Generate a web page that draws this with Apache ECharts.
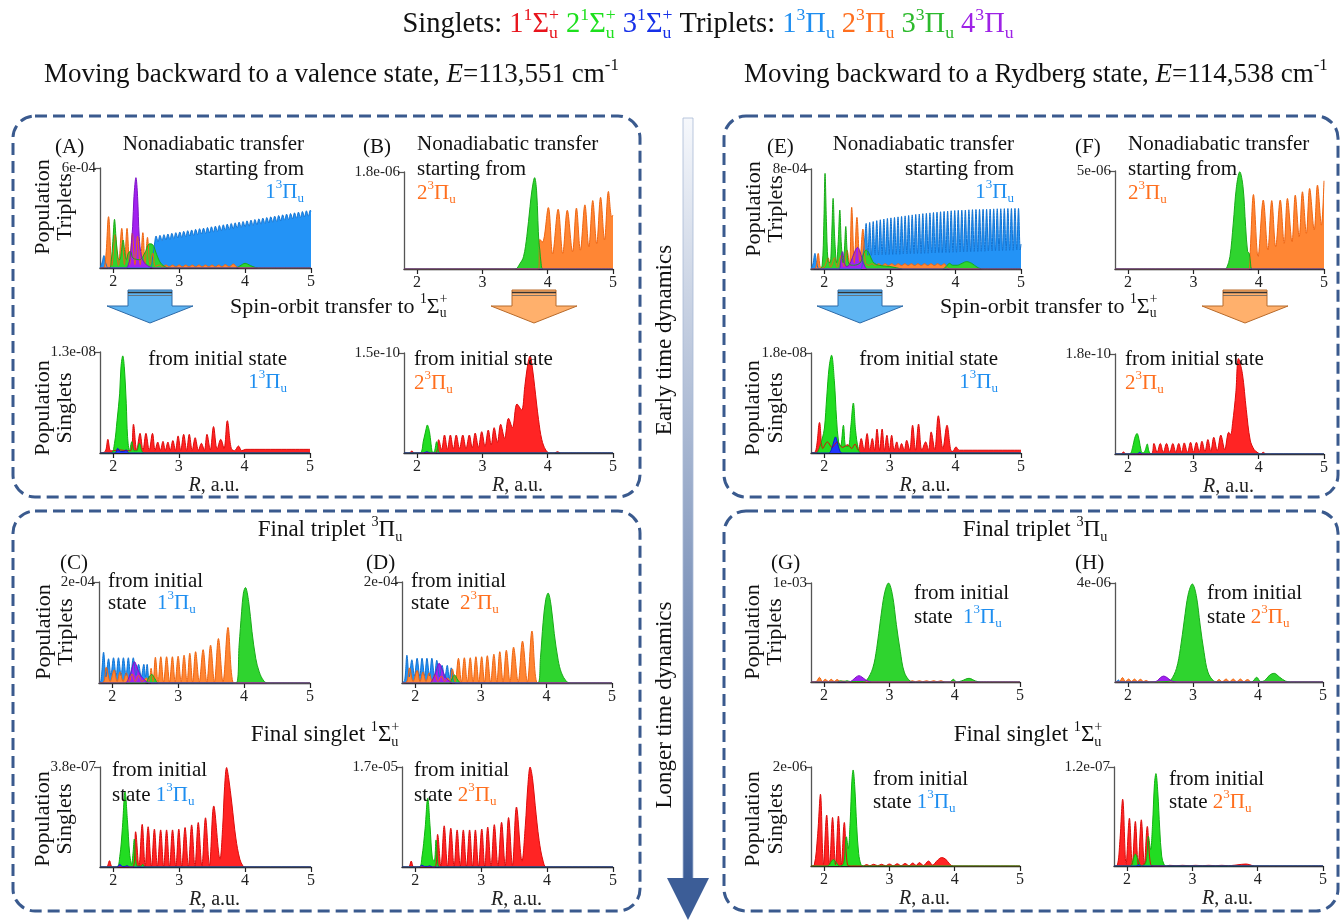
<!DOCTYPE html>
<html><head><meta charset="utf-8">
<script src="https://cdn.jsdelivr.net/npm/echarts@6/dist/echarts.min.js"></script>
<style>html,body{margin:0;padding:0;background:#fff}#c{width:1344px;height:922px}</style>
</head><body><div id="c"></div>
<script>
// ---------------- DATA (x = R in a.u., y in units of each panel's top-tick exponent) ----------------
const X_MIN = 1.8, X_MAX = 5;
const X_TICKS = [2, 3, 4, 5];
const Y_TICK_LABELS = ['6e-04','1.8e-06','1.3e-08','1.5e-10','8e-04','5e-06','1.8e-08','1.8e-10','2e-04','2e-04','3.8e-07','1.7e-05','1e-03','4e-06','2e-06','1.2e-07'];
const Y_MAX = [6, 1.8, 1.3, 1.5, 8, 5, 1.8, 1.8, 2, 2, 3.8, 1.7, 1, 4, 2, 1.2];

// (A) triplets, from 1^3Pi_u, valence
const A_blue = [[1.8,0],[1.83,0.3],[1.86,0.75],[1.89,0.25],[1.93,0],[2.55,0],[2.6,0.7],[2.63,1.55],
[2.65,1.92],[2.68,1.6],[2.71,1.96],[2.74,1.64],[2.77,2.0],[2.8,1.68],[2.83,2.04],[2.86,1.72],[2.89,2.08],[2.92,1.76],[2.95,2.12],[2.98,1.8],[3.01,2.16],[3.04,1.84],[3.07,2.2],[3.1,1.88],[3.13,2.24],[3.16,1.92],[3.19,2.28],[3.22,1.96],[3.25,2.32],[3.28,2.0],[3.31,2.36],[3.34,2.04],[3.37,2.39],[3.4,2.07],[3.43,2.43],[3.46,2.11],[3.49,2.47],[3.52,2.15],[3.55,2.51],[3.58,2.19],[3.61,2.55],[3.64,2.23],[3.67,2.59],[3.7,2.27],[3.73,2.63],[3.76,2.31],[3.79,2.67],[3.82,2.35],[3.85,2.71],[3.88,2.39],[3.91,2.75],[3.94,2.43],[3.97,2.79],[4.0,2.47],[4.03,2.83],[4.06,2.51],[4.09,2.87],[4.12,2.55],[4.15,2.91],[4.18,2.59],[4.21,2.95],[4.24,2.63],[4.27,2.99],[4.3,2.67],[4.33,3.03],[4.36,2.71],[4.39,3.07],[4.42,2.75],[4.45,3.11],[4.48,2.79],[4.51,3.15],[4.54,2.83],[4.57,3.19],[4.6,2.87],[4.63,3.23],[4.66,2.91],[4.69,3.27],[4.72,2.95],[4.75,3.31],[4.78,2.99],[4.81,3.35],[4.84,3.03],[4.87,3.39],[4.9,3.07],[4.93,3.43],[4.96,3.11],[4.99,3.47],[5.0,3.4]];
const A_orange = [[1.8,0],[1.87,0.1],[1.93,3.08],[1.98,0.15],[2.03,2.0],[2.08,0.15],[2.13,2.38],[2.17,0.2],[2.21,2.38],[2.25,0.2],[2.29,2.1],[2.33,0.2],[2.37,1.9],[2.41,0.2],[2.45,2.12],[2.485,0.25],[2.52,1.84],[2.56,0.2],[2.6,0.9],[2.64,0.1],[2.7,0.18],[2.75,0.07],[2.8,0.18],[2.85,0.07],[2.9,0.18],[2.95,0.07],[3.0,0.18],[3.05,0.07],[3.1,0.18],[3.15,0.07],[3.2,0.18],[3.25,0.07],[3.3,0.18],[3.35,0.07],[3.4,0.18],[3.45,0.07],[3.5,0.18],[3.55,0.07],[3.6,0.18],[3.65,0.07],[3.7,0.2],[3.76,0.07],[3.82,0.24],[3.88,0.05],[3.94,0],[5,0]];
const A_green = [[1.8,0],[1.94,0],[1.97,0.4],[1.995,1.6],[2.02,2.92],[2.045,1.7],[2.075,0.6],[2.1,0.5],[2.125,1.0],[2.15,1.68],[2.175,1.0],[2.2,0.5],[2.23,0.9],[2.26,1.0],[2.3,0.6],[2.4,0.5],[2.48,0.9],[2.55,1.45],[2.6,1.4],[2.66,0.8],[2.72,0.3],[2.8,0.05],[2.9,0],[3.85,0],[3.92,0.12],[4.0,0.28],[4.08,0.15],[4.16,0.03],[4.25,0],[5,0]];
const A_purple = [[1.8,0],[2.2,0],[2.23,0.2],[2.255,0.58],[2.295,2.48],[2.315,4.28],[2.345,5.42],[2.37,4.28],[2.395,1.88],[2.43,0.68],[2.48,0.28],[2.56,0.05],[2.62,0],[5,0]];

// (B) triplets, from 2^3Pi_u, valence
const B_orange = [[1.8,0],[3.86,0],[3.88,0.55],[3.92,0.5],[4.01,1.14],[4.075,0.28],[4.16,1.11],[4.23,0.29],[4.3,1.09],[4.38,0.32],[4.44,1.13],[4.5,0.35],[4.57,1.19],[4.63,0.41],[4.69,1.27],[4.75,0.47],[4.81,1.33],[4.87,0.54],[4.93,1.44],[4.98,0.97],[5.0,1.0]];
const B_green = [[1.8,0],[3.5,0],[3.575,0.1],[3.63,0.23],[3.68,0.6],[3.73,1.16],[3.76,1.47],[3.8,1.695],[3.83,1.45],[3.85,0.9],[3.865,0.5],[3.88,0.35],[3.9,0.1],[3.93,0],[5,0]];
const B_purple = [[1.8,0],[5,0]];

// (A) singlets below
const AB_red = [[1.8,0],[1.88,0.02],[1.92,0.176],[1.96,0.03],[2.0,0.03],[2.1,0.04],[2.2,0.03],[2.27,0.03],[2.31,0.37],[2.36,0.035],[2.41,0.253],[2.455,0.035],[2.5,0.253],[2.55,0.035],[2.6,0.253],[2.64,0.035],[2.68,0.14],[2.72,0.035],[2.76,0.15],[2.795,0.035],[2.835,0.14],[2.87,0.035],[2.91,0.16],[2.95,0.035],[2.99,0.22],[3.03,0.035],[3.075,0.24],[3.12,0.035],[3.16,0.24],[3.205,0.035],[3.25,0.197],[3.3,0.035],[3.345,0.124],[3.39,0.035],[3.43,0.24],[3.48,0.04],[3.53,0.34],[3.585,0.05],[3.64,0.176],[3.69,0.06],[3.74,0.416],[3.8,0.06],[3.85,0.03],[3.91,0.09],[3.96,0.03],[4.02,0.047],[5.0,0.047]];
const AB_green = [[1.8,0],[1.97,0],[2.02,0.12],[2.06,0.42],[2.1,0.77],[2.12,1.11],[2.147,1.25],[2.17,1.11],[2.2,0.64],[2.22,0.21],[2.25,0.03],[2.285,0.146],[2.32,0.03],[2.36,0.03],[2.4,0.124],[2.44,0.02],[2.48,0],[5,0]];
const AB_blue = [[1.8,0],[2.03,0],[2.07,0.06],[2.11,0.02],[2.16,0.02],[2.2,0.04],[2.24,0],[5,0]];

// (B) singlets below
const BB_red = [[1.8,0],[1.88,0],[1.92,0.03],[1.96,0],[2.28,0],[2.33,0.2],[2.375,0.05],[2.42,0.27],[2.465,0.055],[2.51,0.27],[2.555,0.06],[2.6,0.27],[2.65,0.065],[2.7,0.27],[2.75,0.07],[2.8,0.27],[2.845,0.075],[2.89,0.3],[2.94,0.085],[2.99,0.32],[3.04,0.1],[3.09,0.345],[3.135,0.12],[3.18,0.38],[3.23,0.16],[3.28,0.43],[3.34,0.22],[3.4,0.52],[3.46,0.38],[3.53,0.735],[3.6,0.645],[3.65,1.0],[3.69,1.3],[3.73,1.455],[3.77,1.245],[3.8,1.0],[3.86,0.5],[3.91,0.2],[3.97,0.045],[4.03,0],[4.1,0],[4.15,0.02],[4.2,0],[5,0]];
const BB_green = [[1.8,0],[2.04,0],[2.1,0.195],[2.135,0.345],[2.157,0.42],[2.19,0.32],[2.213,0.145],[2.24,0.01],[2.265,0.02],[2.3,0.17],[2.33,0.02],[2.36,0],[5,0]];
const BB_blue = [[1.8,0],[2.1,0],[2.15,0.02],[2.2,0],[5,0]];

// (E) triplets, from 1^3Pi_u, Rydberg
const E_blue = [[1.8,0],[1.83,0.4],[1.86,1.25],[1.89,0.4],[1.93,0],[2.55,0],[2.59,1.0],[2.62,2.5],
[2.64,3.65],[2.667,1.1],[2.694,3.73],[2.721,1.1],[2.748,3.8],[2.775,1.12],[2.802,3.87],[2.829,1.12],[2.856,3.94],[2.883,1.14],[2.91,4.0],[2.937,1.14],[2.964,4.05],[2.991,1.16],[3.018,4.09],[3.045,1.16],[3.072,4.13],[3.099,1.18],[3.126,4.17],[3.153,1.18],[3.18,4.21],[3.207,1.2],[3.234,4.25],[3.261,1.2],[3.288,4.29],[3.315,1.22],[3.342,4.33],[3.369,1.22],[3.396,4.37],[3.423,1.24],[3.45,4.4],[3.477,1.24],[3.504,4.43],[3.531,1.26],[3.558,4.46],[3.585,1.26],[3.612,4.49],[3.639,1.28],[3.666,4.52],[3.693,1.28],[3.72,4.55],[3.747,1.3],[3.774,4.58],[3.801,1.3],[3.828,4.61],[3.855,1.32],[3.882,4.64],[3.909,1.32],[3.936,4.66],[3.963,1.34],[3.99,4.68],[4.017,1.34],[4.044,4.7],[4.071,1.36],[4.098,4.71],[4.125,1.36],[4.152,4.72],[4.179,1.38],[4.206,4.74],[4.233,1.38],[4.26,4.75],[4.287,1.4],[4.314,4.76],[4.341,1.4],[4.368,4.77],[4.395,1.42],[4.422,4.78],[4.449,1.42],[4.476,4.79],[4.503,1.44],[4.53,4.8],[4.557,1.44],[4.584,4.81],[4.611,1.46],[4.638,4.82],[4.665,1.46],[4.692,4.82],[4.719,1.48],[4.746,4.83],[4.773,1.48],[4.8,4.84],[4.827,1.5],[4.854,4.84],[4.881,1.5],[4.908,4.85],[4.935,1.52],[4.962,4.85],[4.989,1.52],[5.0,2.0]];
const E_orange = [[1.8,0],[1.87,0.1],[1.91,1.25],[1.95,0.1],[2.0,0.15],[2.06,0.9],[2.1,0.15],[2.16,0.9],[2.2,0.15],[2.26,1.1],[2.3,0.2],[2.35,1.5],[2.385,0.3],[2.42,4.93],[2.46,0.5],[2.5,4.13],[2.545,0.6],[2.59,3.2],[2.63,0.5],[2.68,0.3],[2.73,0.42],[2.78,0.28],[2.83,0.42],[2.88,0.28],[2.93,0.42],[2.98,0.28],[3.03,0.42],[3.08,0.28],[3.13,0.42],[3.18,0.28],[3.23,0.42],[3.28,0.28],[3.33,0.42],[3.38,0.28],[3.43,0.42],[3.48,0.28],[3.53,0.42],[3.58,0.28],[3.63,0.42],[3.68,0.28],[3.73,0.42],[3.78,0.28],[3.83,0.42],[3.88,0.1],[3.93,0],[5,0]];
const E_green = [[1.8,0],[1.93,0],[1.97,0.3],[1.995,3.5],[2.014,7.65],[2.035,3.8],[2.06,0.6],[2.09,0.5],[2.115,2.6],[2.137,5.65],[2.16,2.6],[2.19,0.5],[2.215,2.2],[2.239,4.72],[2.262,2.0],[2.29,0.5],[2.31,1.6],[2.33,3.4],[2.352,1.3],[2.38,0.4],[2.45,0.3],[2.55,0.5],[2.6,1.2],[2.64,1.52],[2.68,1.3],[2.74,0.6],[2.8,0.35],[2.9,0.25],[3.0,0.2],[3.1,0.1],[3.2,0],[3.8,0],[3.86,0.2],[3.91,0.45],[3.96,0.3],[4.03,0.3],[4.1,0.45],[4.17,0.59],[4.25,0.45],[4.33,0.15],[4.42,0],[5,0]];
const E_purple = [[1.8,0],[2.22,0],[2.25,0.5],[2.28,1.39],[2.31,0.5],[2.34,0.2],[2.38,0.3],[2.43,0.9],[2.48,1.55],[2.51,1.73],[2.54,1.5],[2.58,0.8],[2.62,0.2],[2.66,0],[5,0]];

// (F) triplets, from 2^3Pi_u, Rydberg
const F_orange = [[1.8,0],[3.85,0],[3.87,0.88],[3.92,3.8],[3.99,0.63],[4.07,3.52],[4.14,0.97],[4.2,3.49],[4.26,1.14],[4.33,3.52],[4.39,1.31],[4.44,3.6],[4.51,1.39],[4.56,3.77],[4.62,1.65],[4.67,3.94],[4.73,1.82],[4.78,4.11],[4.85,1.99],[4.9,4.28],[4.96,2.24],[5.0,4.5]];
const F_green = [[1.8,0],[3.48,0],[3.51,0.05],[3.56,0.63],[3.61,2.3],[3.66,4.2],[3.71,4.96],[3.76,4.2],[3.8,2.16],[3.83,0.9],[3.855,0.8],[3.875,0.3],[3.9,0],[5,0]];
const F_purple = [[1.8,0],[5,0]];

// (E) singlets below
const EB_red = [[1.8,0],[1.87,0.03],[1.93,0.55],[1.98,0.08],[2.05,0.2],[2.12,0.1],[2.2,0.2],[2.28,0.1],[2.36,0.15],[2.42,0.08],[2.47,0.16],[2.52,0.05],[2.565,0.26],[2.61,0.05],[2.655,0.35],[2.695,0.05],[2.734,0.26],[2.77,0.05],[2.806,0.43],[2.845,0.05],[2.884,0.43],[2.92,0.05],[2.957,0.32],[2.993,0.05],[3.029,0.32],[3.068,0.05],[3.107,0.2],[3.143,0.05],[3.18,0.17],[3.22,0.05],[3.258,0.23],[3.303,0.05],[3.348,0.5],[3.393,0.05],[3.439,0.52],[3.49,0.05],[3.547,0.2],[3.59,0.05],[3.631,0.38],[3.685,0.06],[3.74,0.67],[3.81,0.08],[3.872,0.5],[3.93,0.05],[3.96,0.03],[4.01,0.11],[4.06,0.05],[5,0.05]];
const EB_green = [[1.8,0],[1.88,0],[1.93,0.1],[1.97,0.25],[2.005,0.45],[2.04,1.01],[2.077,1.55],[2.113,1.76],[2.155,1.31],[2.19,0.6],[2.22,0.2],[2.25,0.12],[2.294,0.5],[2.33,0.12],[2.37,0.12],[2.405,0.45],[2.445,0.9],[2.48,0.4],[2.52,0.08],[2.56,0],[5,0]];
const EB_blue = [[1.8,0],[2.07,0],[2.11,0.06],[2.145,0.2],[2.173,0.29],[2.2,0.2],[2.235,0.05],[2.27,0],[5,0]];

// (F) singlets below
const FB_red = [[1.8,0],[1.89,0],[1.93,0.036],[1.97,0],[2.35,0],[2.396,0.19],[2.445,0.03],[2.493,0.19],[2.54,0.03],[2.589,0.19],[2.637,0.03],[2.686,0.19],[2.73,0.03],[2.776,0.19],[2.82,0.03],[2.86,0.2],[2.91,0.03],[2.957,0.21],[3.0,0.035],[3.047,0.21],[3.09,0.04],[3.131,0.23],[3.177,0.045],[3.222,0.26],[3.267,0.05],[3.312,0.3],[3.366,0.06],[3.42,0.34],[3.48,0.08],[3.541,0.39],[3.57,0.35],[3.6,0.55],[3.65,1.1],[3.69,1.72],[3.75,1.45],[3.81,0.8],[3.87,0.25],[3.93,0.08],[3.99,0.02],[4.03,0],[4.07,0.03],[4.11,0],[5,0]];
const FB_green = [[1.8,0],[2.02,0],[2.07,0.12],[2.1,0.28],[2.137,0.37],[2.17,0.25],[2.2,0.06],[2.23,0.02],[2.26,0.06],[2.294,0.18],[2.32,0.05],[2.36,0],[5,0]];
const FB_blue = [[1.8,0],[2.14,0],[2.18,0.03],[2.22,0],[5,0]];

// (C) final triplet from 1^3Pi_u, valence
const C_blue = [[1.8,0],[1.83,0.05],[1.87,0.61],[1.905,0.12],[1.945,0.48],[1.98,0.15],[2.02,0.5],[2.06,0.15],[2.095,0.5],[2.135,0.15],[2.17,0.5],[2.21,0.15],[2.245,0.5],[2.28,0.15],[2.32,0.5],[2.36,0.15],[2.4,0.37],[2.44,0.12],[2.48,0.37],[2.505,0.12],[2.53,0.37],[2.56,0.05],[2.6,0],[5,0]];
const C_orange = [[1.8,0],[1.87,0.02],[1.91,0.31],[1.97,0.03],[2.03,0.26],[2.075,0.03],[2.12,0.22],[2.165,0.03],[2.215,0.2],[2.26,0.03],[2.3,0.18],[2.35,0.03],[2.4,0.15],[2.45,0.03],[2.52,0.1],[2.56,0.03],[2.59,0.29],[2.62,0.03],[2.655,0.51],[2.695,0.02],[2.737,0.52],[2.78,0.02],[2.825,0.52],[2.87,0.02],[2.913,0.52],[2.955,0.02],[3.0,0.53],[3.045,0.02],[3.09,0.55],[3.135,0.02],[3.177,0.59],[3.22,0.02],[3.265,0.62],[3.32,0.02],[3.379,0.66],[3.435,0.02],[3.492,0.75],[3.55,0.02],[3.611,0.88],[3.68,0.02],[3.756,1.1],[3.83,0.02],[3.9,0],[5,0]];
const C_green = [[1.8,0],[2.5,0],[2.55,0.1],[2.6,0.17],[2.65,0.08],[2.7,0],[3.88,0],[3.925,0.75],[3.963,1.41],[3.99,1.78],[4.02,1.89],[4.07,1.61],[4.12,1.02],[4.177,0.49],[4.23,0.22],[4.3,0.04],[4.36,0],[5,0]];
const C_purple = [[1.8,0],[2.2,0],[2.234,0.05],[2.28,0.2],[2.34,0.42],[2.38,0.3],[2.43,0.15],[2.5,0.05],[2.56,0],[5,0]];

// (D) final triplet from 2^3Pi_u, valence
const D_blue = [[1.8,0],[1.84,0.05],[1.875,0.55],[1.91,0.12],[1.95,0.46],[1.99,0.14],[2.03,0.49],[2.07,0.14],[2.105,0.49],[2.145,0.14],[2.18,0.49],[2.22,0.14],[2.255,0.49],[2.295,0.14],[2.33,0.45],[2.37,0.12],[2.41,0.35],[2.45,0.1],[2.49,0.35],[2.52,0.1],[2.55,0.3],[2.58,0.04],[2.62,0],[5,0]];
const D_orange = [[1.8,0],[1.87,0.02],[1.915,0.3],[1.97,0.03],[2.03,0.25],[2.075,0.03],[2.12,0.22],[2.165,0.03],[2.215,0.2],[2.26,0.03],[2.3,0.17],[2.35,0.03],[2.4,0.14],[2.45,0.03],[2.5,0.1],[2.535,0.03],[2.567,0.28],[2.61,0.02],[2.66,0.49],[2.705,0.02],[2.75,0.5],[2.795,0.02],[2.84,0.5],[2.883,0.02],[2.926,0.52],[2.97,0.02],[3.014,0.52],[3.057,0.02],[3.1,0.54],[3.15,0.02],[3.2,0.57],[3.245,0.02],[3.29,0.62],[3.34,0.02],[3.39,0.65],[3.445,0.02],[3.5,0.71],[3.57,0.02],[3.636,0.83],[3.71,0.02],[3.78,1.03],[3.85,0.02],[3.92,0],[5,0]];
const D_green = [[1.8,0],[2.52,0],[2.56,0.08],[2.6,0.16],[2.65,0.06],[2.7,0],[3.87,0],[3.91,0.5],[3.95,1.2],[3.99,1.65],[4.026,1.78],[4.07,1.55],[4.12,0.98],[4.18,0.45],[4.23,0.2],[4.3,0.04],[4.36,0],[5,0]];
const D_purple = [[1.8,0],[2.22,0],[2.26,0.05],[2.31,0.2],[2.366,0.39],[2.41,0.28],[2.46,0.12],[2.52,0.04],[2.58,0],[5,0]];

// (C) final singlet below
const CB_red = [[1.8,0],[1.9,0],[1.944,0.24],[1.99,0],[2.3,0],[2.34,1.34],[2.39,0.03],[2.44,1.62],[2.485,0.03],[2.53,1.53],[2.58,0.03],[2.625,1.44],[2.67,0.03],[2.72,1.41],[2.765,0.03],[2.81,1.41],[2.855,0.03],[2.9,1.41],[2.95,0.03],[2.995,1.44],[3.04,0.03],[3.09,1.5],[3.14,0.03],[3.19,1.6],[3.24,0.03],[3.29,1.69],[3.345,0.04],[3.4,1.87],[3.46,0.06],[3.525,2.32],[3.62,0.3],[3.66,1.5],[3.69,3.05],[3.72,3.78],[3.75,3.4],[3.8,2.4],[3.86,1.1],[3.92,0.3],[3.97,0.03],[4.0,0],[5,0]];
const CB_green = [[1.8,0],[2.05,0],[2.1,0.4],[2.14,1.5],[2.18,2.86],[2.215,1.8],[2.25,0.5],[2.28,0.1],[2.3,0.5],[2.32,1.06],[2.34,0.3],[2.37,0.03],[2.42,0.03],[2.45,0.1],[2.48,0],[5,0]];
const CB_blue = [[1.8,0],[2.06,0],[2.1,0.1],[2.14,0.02],[2.18,0.02],[2.21,0.05],[2.25,0],[5,0]];

// (D) final singlet below
const DB_red = [[1.8,0],[1.9,0],[1.94,0.1],[1.98,0],[2.3,0],[2.34,0.555],[2.39,0.01],[2.44,0.7],[2.49,0.01],[2.54,0.66],[2.59,0.01],[2.636,0.63],[2.683,0.01],[2.73,0.63],[2.778,0.01],[2.825,0.63],[2.87,0.01],[2.913,0.63],[2.96,0.01],[3.01,0.646],[3.055,0.01],[3.1,0.68],[3.15,0.01],[3.2,0.72],[3.255,0.015],[3.31,0.76],[3.365,0.02],[3.416,0.84],[3.475,0.03],[3.536,1.02],[3.62,0.1],[3.67,0.7],[3.71,1.4],[3.743,1.7],[3.78,1.5],[3.82,1.05],[3.88,0.45],[3.94,0.1],[3.99,0],[5,0]];
const DB_green = [[1.8,0],[2.06,0],[2.1,0.15],[2.15,0.65],[2.19,1.17],[2.225,0.7],[2.26,0.15],[2.29,0.1],[2.316,0.46],[2.34,0.1],[2.37,0],[5,0]];
const DB_blue = [[1.8,0],[2.06,0],[2.1,0.03],[2.14,0.01],[2.19,0.01],[2.22,0.02],[2.26,0],[5,0]];

// (G) final triplet from 1^3Pi_u, Rydberg
const G_orange = [[1.8,0],[1.88,0.005],[1.93,0.047],[1.975,0.005],[2.02,0.027],[2.065,0.005],[2.11,0.027],[2.155,0.005],[2.2,0.024],[2.25,0.005],[2.3,0.01],[2.35,0],[3.3,0],[3.35,0.013],[3.4,0.003],[3.46,0.013],[3.51,0.003],[3.57,0.013],[3.62,0.003],[3.68,0.013],[3.73,0.003],[3.79,0.013],[3.85,0],[5,0]];
const G_green = [[1.8,0],[2.2,0],[2.25,0.012],[2.3,0.005],[2.35,0.012],[2.4,0.005],[2.5,0.005],[2.6,0.005],[2.655,0.02],[2.746,0.14],[2.806,0.34],[2.866,0.64],[2.927,0.9],[2.987,1.0],[3.047,0.88],[3.107,0.58],[3.167,0.31],[3.228,0.1],[3.318,0.01],[3.4,0],[3.92,0],[3.98,0.027],[4.03,0],[4.1,0.01],[4.22,0.037],[4.32,0.01],[4.4,0],[5,0]];
const G_purple = [[1.8,0],[2.38,0],[2.43,0.015],[2.49,0.05],[2.535,0.064],[2.58,0.05],[2.64,0.02],[2.7,0.003],[2.75,0],[5,0]];

// (H) final triplet from 2^3Pi_u, Rydberg
const H_blue = [[1.8,0],[1.83,0.03],[1.855,0.08],[1.88,0],[5,0]];
const H_orange = [[1.8,0],[1.87,0.01],[1.915,0.18],[1.96,0.02],[2.01,0.12],[2.055,0.02],[2.1,0.12],[2.145,0.02],[2.19,0.11],[2.24,0.02],[2.28,0.06],[2.33,0],[3.35,0],[3.4,0.1],[3.45,0.01],[3.51,0.12],[3.56,0.01],[3.62,0.12],[3.67,0.01],[3.73,0.12],[3.78,0.01],[3.84,0.1],[3.9,0],[5,0]];
const H_green = [[1.8,0],[2.3,0],[2.6,0.02],[2.66,0.08],[2.746,0.55],[2.806,1.35],[2.866,2.5],[2.927,3.55],[2.99,3.96],[3.05,3.5],[3.11,2.3],[3.17,1.2],[3.23,0.4],[3.32,0.04],[3.4,0],[3.9,0],[3.98,0.19],[4.04,0.02],[4.1,0.05],[4.18,0.28],[4.25,0.35],[4.33,0.2],[4.42,0.04],[4.5,0],[5,0]];
const H_purple = [[1.8,0],[2.4,0],[2.45,0.05],[2.5,0.18],[2.55,0.24],[2.6,0.18],[2.66,0.06],[2.72,0.01],[2.77,0],[5,0]];

// (G) final singlet below
const GB_red = [[1.8,0],[1.85,0.02],[1.9,0.6],[1.945,1.45],[1.99,0.03],[2.04,1.03],[2.085,0.03],[2.13,0.98],[2.175,0.03],[2.22,1.01],[2.265,0.03],[2.31,0.88],[2.36,0.02],[2.42,0],[2.6,0],[2.65,0.03],[2.7,0.005],[2.76,0.035],[2.82,0.005],[2.88,0.035],[2.94,0.005],[3.0,0.04],[3.06,0.005],[3.12,0.045],[3.18,0.005],[3.24,0.05],[3.3,0.005],[3.36,0.06],[3.41,0.01],[3.46,0.07],[3.52,0.01],[3.6,0.1],[3.66,0.02],[3.74,0.12],[3.8,0.17],[3.86,0.14],[3.93,0.03],[3.98,0],[5,0]];
const GB_green = [[1.8,0],[2.05,0],[2.1,0.07],[2.143,0.13],[2.19,0.06],[2.24,0],[2.3,0.05],[2.342,0.59],[2.37,0.35],[2.4,0.9],[2.425,1.7],[2.445,1.94],[2.47,1.6],[2.5,0.8],[2.53,0.25],[2.565,0.03],[2.6,0],[5,0]];

// (H) final singlet below
const HB_red = [[1.8,0],[1.85,0.01],[1.89,0.3],[1.933,0.81],[1.985,0.02],[2.036,0.58],[2.08,0.02],[2.127,0.54],[2.17,0.02],[2.218,0.56],[2.265,0.02],[2.31,0.48],[2.36,0.02],[2.42,0],[2.6,0],[2.65,0.008],[2.75,0.004],[2.85,0.008],[2.95,0.004],[3.05,0.008],[3.15,0.004],[3.25,0.008],[3.35,0.004],[3.45,0.008],[3.55,0.004],[3.65,0.01],[3.75,0.02],[3.82,0.024],[3.88,0.015],[3.95,0],[5,0]];
const HB_green = [[1.8,0],[2.05,0],[2.09,0.07],[2.127,0.145],[2.17,0.07],[2.22,0],[2.29,0.05],[2.327,0.36],[2.36,0.2],[2.39,0.5],[2.42,1.0],[2.442,1.12],[2.47,0.9],[2.5,0.45],[2.53,0.12],[2.565,0.02],[2.6,0],[5,0]];
const HB_blue = [[1.8,0],[2.14,0],[2.176,0.016],[2.21,0],[5,0]];

// ---------------- STYLE ----------------
const FF = '"Liberation Serif", "Times New Roman", serif';
const COL = {
  r:['#ff2424','#dc0a0a'], g:['#22dd22','#10b010'], b:['#1f35ff','#0a18d0'],
  lb:['#2393f6','#1273d2'], or:['#ff8634','#ee6512'], tg:['#2fd42f','#18aa18'], pu:['#a321f0','#7c12c4']
};
const TXT = {r:'#e8141c', g:'#1ee01e', b:'#1630e8', lb:'#1e8ef0', or:'#ff6f1e', tg:'#2cba2c', pu:'#9e22e6', k:'#111'};
const FS = 21;   // panel annotation font size

// panel layout: [left, top, right, bottom]
const PANELS = [
  {g:[100,168,311,268], s:[['lb',A_blue],['or',A_orange],['tg',A_green],['pu',A_purple]]},
  {g:[404,172,613,269], s:[['or',B_orange],['tg',B_green],['pu',B_purple]]},
  {g:[100,352,310,453], s:[['r',AB_red],['g',AB_green],['b',AB_blue]], xn:true},
  {g:[404,353,613,453], s:[['r',BB_red],['g',BB_green],['b',BB_blue]], xn:true},
  {g:[811,169,1021,269], s:[['lb',E_blue],['or',E_orange],['tg',E_green],['pu',E_purple]]},
  {g:[1115,171,1324,269], s:[['or',F_orange],['tg',F_green],['pu',F_purple]]},
  {g:[811,353,1021,453], s:[['r',EB_red],['g',EB_green],['b',EB_blue]], xn:true},
  {g:[1115,354,1324,454], s:[['r',FB_red],['g',FB_green],['b',FB_blue]], xn:true},
  {g:[99,582,310,683], s:[['lb',C_blue],['or',C_orange],['tg',C_green],['pu',C_purple]]},
  {g:[402,582,612,683], s:[['lb',D_blue],['or',D_orange],['tg',D_green],['pu',D_purple]]},
  {g:[100,767,311,867], s:[['r',CB_red],['g',CB_green],['b',CB_blue]], xn:true},
  {g:[402,767,613,867], s:[['r',DB_red],['g',DB_green],['b',DB_blue]], xn:true},
  {g:[811,583,1020,682], s:[['or',G_orange],['tg',G_green],['pu',G_purple]]},
  {g:[1115,583,1323,682], s:[['lb',H_blue],['or',H_orange],['tg',H_green],['pu',H_purple]]},
  {g:[811,767,1020,866], s:[['r',GB_red],['g',GB_green]], xn:true},
  {g:[1114,767,1323,866], s:[['r',HB_red],['g',HB_green],['b',HB_blue]], xn:true}
];

const grids = [], xAxes = [], yAxes = [], series = [];
PANELS.forEach((p, i) => {
  const [l, t, r, b] = p.g;
  const M = Y_MAX[i], lab = Y_TICK_LABELS[i];
  grids.push({left:l, top:t, width:r-l, height:b-t, containLabel:false, outerBoundsMode:'none'});
  xAxes.push({
    gridIndex:i, type:'value', min:X_MIN, max:X_MAX,
    axisLine:{show:true, onZero:false, lineStyle:{color:'#222', width:1.3}},
    axisTick:{show:true, customValues:X_TICKS, length:5, lineStyle:{color:'#222', width:1.2}},
    axisLabel:{show:true, customValues:X_TICKS, fontFamily:FF, fontSize:16, color:'#222', margin:6},
    splitLine:{show:false},
    name: p.xn ? '{i|R}, a.u.' : '', nameLocation:'middle', nameGap:21,
    nameTextStyle:{fontFamily:FF, fontSize:20, color:'#222', verticalAlign:'top', padding:[0,0,0,18],
      rich:{i:{fontFamily:FF, fontSize:20, fontStyle:'italic', color:'#222'}}}
  });
  yAxes.push({
    gridIndex:i, type:'value', min:0, max:M,
    axisLine:{show:true, lineStyle:{color:'#555', width:1.3}},
    axisTick:{show:true, customValues:[M], length:6, lineStyle:{color:'#555', width:1.2}},
    axisLabel:{show:true, customValues:[M], formatter:() => lab, fontFamily:FF, fontSize:15, color:'#222', margin:4},
    splitLine:{show:false}
  });
  p.s.forEach(([c, d]) => {
    series.push({
      type:'line', xAxisIndex:i, yAxisIndex:i, data:d, smooth:0.35, symbol:'none', showSymbol:false,
      silent:true, animation:false, clip:true,
      lineStyle:{width:1, color:COL[c][1]}, areaStyle:{color:COL[c][0], opacity:1}
    });
  });
});

// ---------------- TEXT HELPERS ----------------
const GR = [];
const mctx = document.createElement('canvas').getContext('2d');
function tw(t, s, it) { mctx.font = (it ? 'italic ' : '') + s + 'px ' + FF; return mctx.measureText(t).width; }
function rich(x, y, parts, size, align) {
  const ss = size * 0.62;
  const widths = parts.map(p => {
    if (p[2] === 'ss') { const q = p[0].split('|'); return Math.max(tw(q[0], ss), tw(q[1], ss)); }
    return tw(p[0], p[2] ? ss : size, p[3]);
  });
  const total = widths.reduce((a, b) => a + b, 0);
  let cx = align === 'center' ? x - total / 2 : (align === 'right' ? x - total : x);
  parts.forEach((p, i) => {
    const push = (t, yy, s) => GR.push({type:'text', x:cx, y:yy, z:100, silent:true,
      style:{text:t, fill:TXT[p[1]] || p[1], font:(p[3] ? 'italic ' : '') + s + 'px ' + FF, align:'left', verticalAlign:'middle'}});
    if (p[2] === 'sup') push(p[0], y - size * 0.33, ss);
    else if (p[2] === 'sub') push(p[0], y + size * 0.3, ss);
    else if (p[2] === 'ss') { const q = p[0].split('|'); push(q[0], y + size * 0.3, ss); push(q[1], y - size * 0.33, ss); }
    else push(p[0], y, size);
    cx += widths[i];
  });
}
const PI = (c, n) => [[n, c, ''], ['3', c, 'sup'], ['Π', c, ''], ['u', c, 'sub']];
const SG = (c, n) => [[n, c, ''], ['1', c, 'sup'], ['Σ', c, ''], ['u|+', c, 'ss']];
const SG0 = (c) => [['1', c, 'sup'], ['Σ', c, ''], ['u|+', c, 'ss']];
const PI0 = (c) => [['3', c, 'sup'], ['Π', c, ''], ['u', c, 'sub']];
const T = (t) => [[t, 'k', '']];
function rot(x, y, t, size) {
  GR.push({type:'text', x:x, y:y, rotation:Math.PI / 2, z:100, silent:true,
    style:{text:t, fill:'#111', font:size + 'px ' + FF, align:'center', verticalAlign:'middle'}});
}

// legend and headers
rich(708, 25, [].concat(T('Singlets: '), SG('r','1'), T(' '), SG('g','2'), T(' '), SG('b','3'), T(' Triplets: '),
  PI('lb','1'), T(' '), PI('or','2'), T(' '), PI('tg','3'), T(' '), PI('pu','4')), 28.5, 'center');
rich(44, 75, [['Moving backward to a valence state, ','k',''],['E','k','',true],['=113,551 cm','k',''],['-1','k','sup']], 27, 'left');
rich(744, 75, [['Moving backward to a Rydberg state, ','k',''],['E','k','',true],['=114,538 cm','k',''],['-1','k','sup']], 27, 'left');

// row 1
rich(55, 147, T('(A)'), FS, 'left');
rich(304, 144, T('Nonadiabatic transfer'), FS, 'right');
rich(304, 169, T('starting from'), FS, 'right');
rich(304, 192, PI('lb','1'), FS, 'right');
rich(363, 147, T('(B)'), FS, 'left');
rich(417, 144, T('Nonadiabatic transfer'), FS, 'left');
rich(417, 169, T('starting from'), FS, 'left');
rich(417, 193, PI('or','2'), FS, 'left');
rich(767, 147, T('(E)'), FS, 'left');
rich(1014, 144, T('Nonadiabatic transfer'), FS, 'right');
rich(1014, 169, T('starting from'), FS, 'right');
rich(1014, 192, PI('lb','1'), FS, 'right');
rich(1075, 147, T('(F)'), FS, 'left');
rich(1128, 144, T('Nonadiabatic transfer'), FS, 'left');
rich(1128, 169, T('starting from'), FS, 'left');
rich(1128, 193, PI('or','2'), FS, 'left');
rich(230, 307, [].concat(T('Spin-orbit transfer to '), SG0('k')), 22, 'left');
rich(940, 307, [].concat(T('Spin-orbit transfer to '), SG0('k')), 22, 'left');

// row 2
rich(287, 359, T('from initial state'), FS, 'right');
rich(287, 382, PI('lb','1'), FS, 'right');
rich(414, 359, T('from initial state'), FS, 'left');
rich(414, 383, PI('or','2'), FS, 'left');
rich(998, 359, T('from initial state'), FS, 'right');
rich(998, 382, PI('lb','1'), FS, 'right');
rich(1125, 359, T('from initial state'), FS, 'left');
rich(1125, 383, PI('or','2'), FS, 'left');

// row 3
rich(330, 530, [].concat(T('Final triplet '), PI0('k')), 23, 'center');
rich(1035, 530, [].concat(T('Final triplet '), PI0('k')), 23, 'center');
rich(60, 563, T('(C)'), FS, 'left');
rich(108, 581, T('from initial'), FS, 'left');
rich(108, 603, [].concat(T('state  '), PI('lb','1')), FS, 'left');
rich(366, 563, T('(D)'), FS, 'left');
rich(411, 581, T('from initial'), FS, 'left');
rich(411, 603, [].concat(T('state  '), PI('or','2')), FS, 'left');
rich(771, 563, T('(G)'), FS, 'left');
rich(914, 593, T('from initial'), FS, 'left');
rich(914, 617, [].concat(T('state  '), PI('lb','1')), FS, 'left');
rich(1075, 563, T('(H)'), FS, 'left');
rich(1207, 593, T('from initial'), FS, 'left');
rich(1207, 617, [].concat(T('state '), PI('or','2')), FS, 'left');

// row 4
rich(325, 735, [].concat(T('Final singlet '), SG0('k')), 23, 'center');
rich(1028, 735, [].concat(T('Final singlet '), SG0('k')), 23, 'center');
rich(112, 770, T('from initial'), FS, 'left');
rich(112, 795, [].concat(T('state '), PI('lb','1')), FS, 'left');
rich(414, 770, T('from initial'), FS, 'left');
rich(414, 795, [].concat(T('state '), PI('or','2')), FS, 'left');
rich(873, 779, T('from initial'), FS, 'left');
rich(873, 802, [].concat(T('state '), PI('lb','1')), FS, 'left');
rich(1169, 779, T('from initial'), FS, 'left');
rich(1169, 802, [].concat(T('state '), PI('or','2')), FS, 'left');

// y-axis names
rot(43, 207, 'Population', 22); rot(65, 207, 'Triplets', 22);
rot(43, 408, 'Population', 22); rot(65, 408, 'Singlets', 22);
rot(754, 209, 'Population', 22); rot(776, 209, 'Triplets', 22);
rot(753, 408, 'Population', 22); rot(776, 408, 'Singlets', 22);
rot(44, 632, 'Population', 22); rot(66, 632, 'Triplets', 22);
rot(43, 819, 'Population', 22); rot(65, 819, 'Singlets', 22);
rot(753, 632, 'Population', 22); rot(775, 632, 'Triplets', 22);
rot(753, 819, 'Population', 22); rot(776, 819, 'Singlets', 22);

// side labels
rot(665, 340, 'Early time dynamics', 23);
rot(665, 705, 'Longer time dynamics', 23);

// dashed boxes
[[13,116,627,381],[13,511,627,400],[724,116,614,381],[724,511,614,400]].forEach(([x, y, w, h]) =>
  GR.push({type:'rect', z:1, silent:true, shape:{x:x, y:y, width:w, height:h, r:22},
    style:{fill:'none', stroke:'#3a5a8e', lineWidth:3, lineDash:[12,6]}}));

// block arrows
function blockArrow(cx, fill, stroke) {
  GR.push({type:'polygon', z:5, silent:true, shape:{points:[[cx-22,290],[cx+22,290],[cx+22,306],[cx+43,306],[cx,323],[cx-43,306],[cx-22,306]]},
    style:{fill:fill, stroke:stroke, lineWidth:1}});
  GR.push({type:'polyline', z:6, silent:true, shape:{points:[[cx-22,292.5],[cx+22,292.5]]}, style:{stroke:'#333', lineWidth:1.3}});
  GR.push({type:'polyline', z:6, silent:true, shape:{points:[[cx-22,295.5],[cx+22,295.5]]}, style:{stroke:'#666', lineWidth:0.8}});
}
blockArrow(150, '#5db4f2', '#2d6aa8');
blockArrow(534, '#ffb06c', '#b86a2a');
blockArrow(860, '#5db4f2', '#2d6aa8');
blockArrow(1245, '#ffb06c', '#b86a2a');

// central time arrow
GR.push({type:'rect', z:4, silent:true, shape:{x:683, y:118, width:10, height:762},
  style:{fill:new echarts.graphic.LinearGradient(0,0,0,1,[{offset:0,color:'#f6f8fc'},{offset:1,color:'#3c5d97'}]), stroke:'#a9bad6', lineWidth:0.8}});
GR.push({type:'polygon', z:4, silent:true, shape:{points:[[667,878],[709,878],[688,920]]}, style:{fill:'#3c5d97'}});

const chart = echarts.init(document.getElementById('c'), null, {renderer:'canvas'});
chart.setOption({
  animation:false, backgroundColor:'#fff',
  grid:grids, xAxis:xAxes, yAxis:yAxes, series:series,
  graphic:{elements:GR}
});
</script></body></html>
